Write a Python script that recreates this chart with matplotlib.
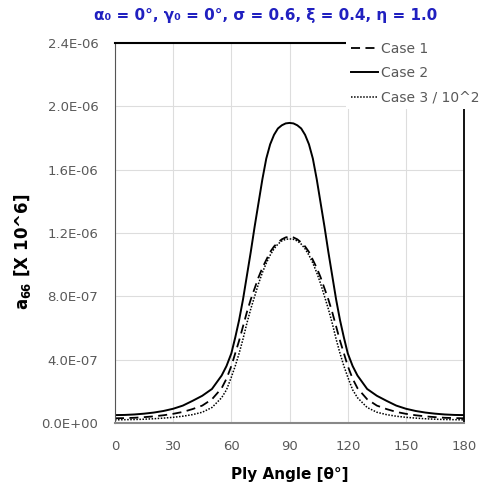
import matplotlib.pyplot as plt
from matplotlib.ticker import FuncFormatter

angle = [0, 5, 10, 15, 20, 25, 30, 35, 40, 45, 50, 55, 57.5, 60, 62, 64, 66, 68, 70, 72, 74,
         76, 78, 80, 82, 84, 86, 88, 90, 92, 94, 96, 98, 100, 102, 104, 106, 108, 110, 112,
         114, 116, 118, 120, 122.5, 125, 130, 135, 140, 145, 150, 155, 160, 165, 170, 175, 180]

case1 = [3.0e-8, 3.1e-8, 3.3e-8, 3.7e-8, 4.2e-8, 4.9e-8, 5.8e-8, 7.0e-8, 8.8e-8, 1.1e-7,
         1.5e-7, 2.2e-7, 2.8e-7, 3.6e-7, 4.4e-7, 5.2e-7, 6.1e-7, 7.0e-7, 7.8e-7, 8.5e-7,
         9.2e-7, 9.8e-7, 1.03e-6, 1.08e-6, 1.115e-6, 1.14e-6, 1.16e-6, 1.172e-6, 1.177e-6,
         1.172e-6, 1.16e-6, 1.14e-6, 1.115e-6, 1.08e-6, 1.03e-6, 9.8e-7, 9.2e-7, 8.5e-7,
         7.8e-7, 7.0e-7, 6.1e-7, 5.2e-7, 4.4e-7, 3.6e-7, 2.8e-7, 2.2e-7, 1.5e-7, 1.1e-7,
         8.8e-8, 7.0e-8, 5.8e-8, 4.9e-8, 4.2e-8, 3.7e-8, 3.3e-8, 3.1e-8, 3.0e-8]

case2 = [5.0e-8, 5.1e-8, 5.4e-8, 5.9e-8, 6.6e-8, 7.6e-8, 9.0e-8, 1.1e-7, 1.4e-7, 1.72e-7,
         2.15e-7, 3.0e-7, 3.6e-7, 4.4e-7, 5.4e-7, 6.5e-7, 7.8e-7, 9.3e-7, 1.08e-6, 1.24e-6,
         1.39e-6, 1.54e-6, 1.67e-6, 1.76e-6, 1.82e-6, 1.86e-6, 1.88e-6, 1.892e-6, 1.895e-6,
         1.892e-6, 1.88e-6, 1.86e-6, 1.82e-6, 1.76e-6, 1.67e-6, 1.54e-6, 1.39e-6, 1.24e-6,
         1.08e-6, 9.3e-7, 7.8e-7, 6.5e-7, 5.4e-7, 4.4e-7, 3.6e-7, 3.0e-7, 2.15e-7, 1.72e-7,
         1.4e-7, 1.1e-7, 9.0e-8, 7.6e-8, 6.6e-8, 5.9e-8, 5.4e-8, 5.1e-8, 5.0e-8]

case3 = [2.0e-8, 2.1e-8, 2.2e-8, 2.4e-8, 2.7e-8, 3.1e-8, 3.6e-8, 4.3e-8, 5.3e-8, 6.8e-8,
         9.8e-8, 1.6e-7, 2.1e-7, 2.9e-7, 3.6e-7, 4.4e-7, 5.3e-7, 6.3e-7, 7.2e-7, 8.0e-7,
         8.8e-7, 9.5e-7, 1.01e-6, 1.06e-6, 1.1e-6, 1.13e-6, 1.15e-6, 1.16e-6, 1.163e-6,
         1.16e-6, 1.15e-6, 1.13e-6, 1.1e-6, 1.06e-6, 1.01e-6, 9.5e-7, 8.8e-7, 8.0e-7,
         7.2e-7, 6.3e-7, 5.3e-7, 4.4e-7, 3.6e-7, 2.9e-7, 2.1e-7, 1.6e-7, 9.8e-8, 6.8e-8,
         5.3e-8, 4.3e-8, 3.6e-8, 3.1e-8, 2.7e-8, 2.4e-8, 2.2e-8, 2.1e-8, 2.0e-8]

labels = ['Case 1', 'Case 2', 'Case 3 / 10^2']
xticks = [0, 30, 60, 90, 120, 150, 180]
yticks = [0, 4e-7, 8e-7, 1.2e-6, 1.6e-6, 2.0e-6, 2.4e-6]

fig = plt.figure(figsize=(4.83, 4.86), dpi=100)
ax = fig.add_axes([0.238, 0.1296, 0.723, 0.782])

ax.plot(angle, case1, color='black', lw=1.3, linestyle=(0, (5, 3)), label=labels[0])
ax.plot(angle, case2, color='black', lw=1.4, label=labels[1])
ax.plot(angle, case3, color='black', lw=1.1, linestyle=(0, (1, 1)), label=labels[2])

ax.set_xlim(0, 180)
ax.set_ylim(0, 2.4e-6)
ax.set_xticks(xticks)
ax.set_yticks(yticks)
ax.yaxis.set_major_formatter(FuncFormatter(lambda v, p: '%.1E' % v))
ax.grid(True, color='#dddddd', lw=0.8)
ax.set_axisbelow(True)
ax.tick_params(length=0, labelsize=9.5, labelcolor='#595959', pad=12)

ax.spines['top'].set_linewidth(1.5)
ax.spines['right'].set_linewidth(1.3)
ax.spines['left'].set_color('#555555')
ax.spines['bottom'].set_color('#888888')
ax.spines['bottom'].set_linewidth(1.5)

ax.set_xlabel('Ply Angle [θ°]', fontsize=11, fontweight='bold', labelpad=10)
ax.set_ylabel(r'a$_{\mathbf{66}}$ [X 10^6]', fontsize=12, fontweight='bold')
ax.yaxis.set_label_coords(-0.235, 0.45)

fig.text(0.55, 0.968, 'α₀ = 0°, γ₀ = 0°, σ = 0.6, ξ = 0.4, η = 1.0',
         ha='center', va='center', color='#2020c0', fontsize=11, fontweight='bold')

fig.legend(loc='upper left', bbox_to_anchor=(0.703, 0.937), frameon=True,
           facecolor='white', edgecolor='none', framealpha=1, fancybox=False,
           fontsize=10, labelcolor='#595959', handlelength=2.0, handletextpad=0.2,
           labelspacing=0.75, borderpad=0.3)

plt.savefig('out.png', dpi=100)
